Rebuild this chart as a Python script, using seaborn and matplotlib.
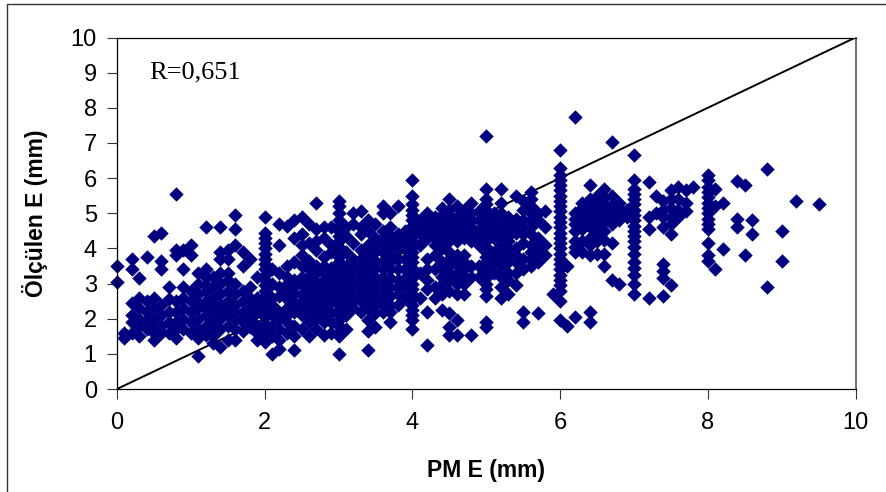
import numpy as np
import pandas as pd
import seaborn as sns
import matplotlib.pyplot as plt
from matplotlib.lines import Line2D

# kolonlar: PM E tam sayi degerlerinde yigilan noktalar
col_2 = [4.9, 4.45, 4.3, 4.15, 4.0, 3.85, 3.7, 3.55, 3.4, 3.25, 3.1, 2.95, 2.8, 2.65, 2.5, 2.35, 2.2, 2.05, 1.85, 1.7, 1.5, 1.35]
col_3 = [5.35, 5.2, 5.0, 4.8, 4.65, 4.5, 4.35, 4.2, 4.05, 3.9, 3.75, 3.6, 3.45, 3.3, 3.15, 3.0, 2.85, 2.7, 2.55, 2.4, 2.25, 2.1, 1.95, 1.8, 1.6, 1.5, 1.0]
col_4 = [5.95, 5.5, 5.25, 5.1, 4.95, 4.8, 4.65, 4.5, 4.35, 4.2, 4.05, 3.9, 3.75, 3.6, 3.45, 3.3, 3.15, 3.0, 2.85, 2.7, 2.55, 2.4, 2.25, 2.1, 1.95, 1.7]
col_5 = [7.2, 5.7, 5.4, 5.25, 5.1, 4.95, 4.8, 4.65, 4.5, 4.35, 4.2, 4.05, 3.9, 3.75, 3.6, 3.45, 3.3, 3.15, 3.0, 2.85, 2.65, 1.9, 1.75]
col_6 = [6.8, 6.3, 6.1, 5.95, 5.8, 5.65, 5.5, 5.35, 5.2, 5.05, 4.9, 4.75, 4.6, 4.45, 4.3, 4.15, 4.0, 3.85, 3.7, 3.55, 3.4, 3.25, 3.1, 2.95, 2.8, 2.5, 1.95]
col_7 = [6.65, 5.95, 5.7, 5.55, 5.4, 5.25, 5.1, 4.95, 4.8, 4.65, 4.5, 4.35, 4.2, 4.05, 3.85, 3.6, 3.45, 3.25, 3.0, 2.7]
col_8 = [6.1, 5.95, 5.75, 5.6, 5.45, 5.3, 5.15, 5.0, 4.85, 4.7, 4.55, 4.15, 3.8, 3.65]

# aradaki noktalar: (PM E, [olculen E degerleri])
band_0 = [
    (0.0, [3.5, 3.05]), (0.1, [1.45, 1.6]), (0.2, [3.7, 3.4, 2.45, 2.1, 1.9, 1.6]),
    (0.3, [3.15, 2.6, 2.3, 2.0, 1.8, 1.5]), (0.4, [3.75, 2.5, 2.2, 1.95, 1.7]),
    (0.5, [4.35, 2.6, 2.3, 2.0, 1.75, 1.6, 1.4]), (0.6, [4.45, 3.65, 3.4, 2.4, 2.1, 1.8, 1.6]),
    (0.7, [2.9, 2.55, 2.2, 1.9, 1.6]), (0.8, [5.55, 3.95, 3.8, 2.5, 2.2, 1.9, 1.7, 1.45]),
    (0.9, [3.95, 3.4, 2.9, 2.6, 2.3, 2.0, 1.7]), (1.0, [4.1, 3.8, 2.8, 2.5, 2.2, 1.9, 1.6]),
]
band_1 = [
    (1.1, [3.3, 3.0, 2.7, 2.45, 2.3, 2.0, 1.7, 1.45, 0.95]), (1.2, [4.6, 3.4, 3.2, 2.95, 2.8, 2.5, 2.3, 2.1, 1.8, 1.55]),
    (1.3, [3.2, 2.9, 2.6, 2.4, 2.2, 1.9, 1.7, 1.5, 1.3]), (1.4, [4.6, 3.9, 3.7, 3.3, 3.0, 2.7, 2.4, 2.2, 2.0, 1.7, 1.2]),
    (1.5, [3.95, 3.7, 3.3, 3.1, 2.8, 2.5, 2.3, 2.1, 1.8, 1.4]), (1.6, [4.95, 4.55, 4.1, 3.0, 2.7, 2.4, 2.2, 2.0, 1.7, 1.4]),
    (1.7, [3.9, 3.5, 2.8, 2.5, 2.2, 2.0, 1.9, 1.65]), (1.8, [3.7, 2.9, 2.6, 2.3, 2.1, 2.0, 1.75]),
    (1.9, [3.2, 2.6, 2.4, 2.2, 1.8, 1.6, 1.4]), (2.1, [3.4, 3.0, 2.6, 2.4, 2.1, 1.8, 1.5, 1.0]),
    (2.2, [4.7, 4.1, 3.3, 2.9, 2.65, 2.2, 2.0, 1.7, 1.4, 1.15]), (2.3, [4.65, 3.5, 3.2, 3.0, 2.8, 2.55, 2.3, 2.1, 1.9, 1.6]),
    (2.4, [4.8, 4.3, 3.6, 3.1, 2.9, 2.7, 2.45, 2.2, 1.8, 1.5, 1.1]), (2.5, [4.9, 4.4, 4.1, 3.8, 3.5, 3.2, 3.0, 2.7, 2.5, 2.3, 2.1, 1.7]),
    (2.6, [4.7, 4.15, 3.65, 3.4, 3.2, 3.0, 2.8, 2.6, 2.4, 2.2, 1.9, 1.5]), (2.7, [5.3, 4.55, 4.2, 3.95, 3.5, 3.3, 3.05, 2.8, 2.6, 2.4, 2.2, 2.0, 1.7]),
    (2.8, [4.6, 4.3, 3.75, 3.5, 3.3, 3.1, 2.9, 2.7, 2.5, 2.3, 2.1, 1.9, 1.55]), (2.9, [4.6, 4.1, 3.9, 3.45, 3.25, 3.05, 2.9, 2.7, 2.5, 2.2, 1.9, 1.6]),
]
band_2 = [
    (3.1, [4.6, 4.35, 3.9, 3.5, 3.3, 3.1, 2.9, 2.7, 2.5, 2.3, 2.1, 1.7]), (3.2, [5.0, 4.7, 4.15, 3.7, 3.5, 3.3, 3.1, 2.9, 2.7, 2.5, 2.3]),
    (3.3, [5.05, 4.6, 4.4, 3.95, 3.7, 3.5, 3.3, 3.1, 2.9, 2.7, 2.5, 2.2]), (3.4, [4.8, 4.5, 4.1, 3.9, 3.7, 3.5, 3.3, 3.1, 2.9, 2.7, 2.5, 2.3, 1.95, 1.65, 1.12]),
    (3.5, [4.7, 4.3, 4.1, 3.9, 3.65, 3.45, 3.2, 3.0, 2.8, 2.6, 2.4, 2.15, 1.75]), (3.6, [5.2, 5.0, 4.5, 4.3, 4.1, 3.9, 3.65, 3.4, 3.2, 3.0, 2.8, 2.6, 2.4, 2.2]),
    (3.7, [5.0, 4.6, 4.35, 4.1, 3.85, 3.6, 3.4, 3.15, 2.9, 2.65, 2.4, 2.2, 1.9]), (3.8, [5.2, 4.4, 4.2, 4.0, 3.7, 3.4, 3.1, 2.9, 2.7, 2.4]),
    (3.9, [4.5, 4.2, 4.0, 3.7, 3.4, 3.15, 2.9, 2.6]), (4.1, [4.8, 4.6, 4.4, 4.1, 3.3, 2.6]),
    (4.2, [5.0, 4.8, 4.6, 4.45, 4.3, 3.7, 3.4, 3.1, 2.85, 2.2, 1.25]), (4.3, [4.9, 4.7, 4.5, 4.3, 4.1, 3.8, 3.4, 2.9, 2.6]),
    (4.4, [5.15, 4.95, 4.8, 4.6, 4.4, 4.2, 4.0, 3.6, 3.4, 3.2, 3.0, 2.7, 2.25]), (4.5, [5.4, 5.1, 4.95, 4.8, 4.6, 4.4, 4.2, 3.9, 3.7, 3.5, 3.3, 3.1, 2.8, 2.15, 1.75, 1.55]),
    (4.6, [5.2, 4.9, 4.7, 4.5, 4.35, 4.2, 3.8, 3.55, 3.3, 3.15, 3.0, 2.7, 1.95, 1.55]), (4.7, [5.1, 4.9, 4.7, 4.5, 4.3, 3.8, 3.6, 3.4, 3.2, 3.0, 2.7]),
    (4.8, [5.3, 5.0, 4.8, 4.6, 4.4, 4.2, 3.5, 3.2, 1.55]), (4.9, [5.05, 4.8, 4.5, 4.3, 4.1, 3.5, 3.2]),
]
band_3 = [
    (5.1, [5.0, 4.8, 4.65, 4.5, 4.3, 3.9, 3.6, 3.3]), (5.2, [5.68, 5.3, 5.0, 4.7, 4.5, 4.3, 4.1, 3.9, 3.7, 3.5, 3.2, 2.9, 2.6]),
    (5.3, [4.9, 4.7, 4.5, 4.35, 4.2, 4.0, 3.8, 3.6, 3.3, 3.1, 2.7]), (5.4, [5.5, 4.85, 4.6, 4.45, 4.0, 3.8, 3.6, 3.3, 2.95]),
    (5.5, [5.35, 5.1, 4.8, 4.6, 4.4, 4.15, 3.7, 3.4, 2.2, 1.9]), (5.6, [5.6, 5.4, 5.2, 5.0, 4.8, 4.6, 4.4, 4.1, 3.9, 3.7, 3.5]),
    (5.7, [5.0, 4.8, 4.3, 4.1, 3.9, 3.6, 2.15]), (5.8, [5.05, 4.6, 4.1, 3.8]), (5.9, [2.7]),
    (6.1, [3.5, 1.8]), (6.2, [7.73, 5.0, 4.85, 4.7, 4.5, 4.2, 4.05, 3.9, 2.05]),
    (6.3, [5.3, 5.15, 5.0, 4.85, 4.7, 4.55, 4.2, 3.9]), (6.4, [5.8, 5.4, 5.2, 5.05, 4.9, 4.75, 4.6, 4.3, 4.1, 3.8, 2.2, 1.9]),
    (6.5, [5.5, 5.35, 5.2, 5.0, 4.85, 4.7, 4.55, 4.4, 4.2, 3.85]), (6.6, [5.7, 5.45, 5.3, 5.1, 4.9, 4.75, 4.5, 4.25, 3.85, 3.5]),
    (6.7, [7.04, 5.5, 5.2, 5.0, 4.85, 4.7, 4.15, 3.1]), (6.8, [5.3, 5.15, 5.0, 4.8, 3.0]),
    (6.9, [5.1, 4.9]),
]
band_4 = [
    (7.2, [5.9, 4.9, 4.55, 2.6]), (7.3, [5.5, 5.0]), (7.4, [5.35, 5.1, 4.9, 4.6, 3.55, 3.35, 3.15, 2.65]),
    (7.5, [5.65, 5.4, 5.15, 4.9, 4.7, 4.4, 2.95]), (7.6, [5.75, 5.4, 5.1, 4.9]),
    (7.7, [5.65, 5.3, 5.05]), (7.8, [5.75]), (8.1, [5.7, 5.2, 3.4]), (8.2, [5.3, 3.97]),
    (8.4, [5.92, 4.85, 4.6]), (8.5, [5.8, 3.8]), (8.6, [4.82, 4.4]),
    (8.8, [6.25, 2.9]), (9.0, [4.5, 3.65]), (9.2, [5.35]), (9.5, [5.27]),
]

kolonlar = [(2.0, col_2), (3.0, col_3), (4.0, col_4), (5.0, col_5), (6.0, col_6), (7.0, col_7), (8.0, col_8)]
satirlar = kolonlar + band_0 + band_1 + band_2 + band_3 + band_4

df = pd.DataFrame([(x, y) for x, ys in satirlar for y in ys], columns=['pm', 'olculen'])

sns.set_theme(style='white')
plt.rcParams['font.family'] = ['Liberation Sans', 'DejaVu Sans']

W, H = 886, 492
fig = plt.figure(figsize=(W / 100, H / 100), dpi=100)
ax = fig.add_axes([117 / W, 1 - 389 / H, (855.5 - 117) / W, (389 - 37.5) / H])

ax.plot([0, 10], [0, 10], color='black', lw=1.4, zorder=1)
sns.scatterplot(data=df, x='pm', y='olculen', marker='D', s=54, color='#000080',
                linewidth=0, ax=ax, zorder=2, clip_on=False)

ax.set_xlim(0, 10)
ax.set_ylim(0, 10)
ax.set_xticks(range(0, 11, 2))
ax.set_yticks(range(0, 11))
ax.tick_params(axis='both', length=7.5, width=0.8, color='#333333', labelsize=17, labelcolor='black',
               bottom=True, left=True, pad=7)
ax.tick_params(axis='x', pad=9)
for s in ax.spines.values():
    s.set_color('black')
    s.set_linewidth(0.9)
ax.spines['right'].set_color('#555555')
ax.spines['right'].set_linewidth(1.2)

ax.set_xlabel('PM E (mm)', fontsize=16.5, fontweight='bold', color='black', labelpad=18)
ax.set_ylabel('Ölçülen E (mm)', fontsize=16.5, fontweight='bold', color='black', labelpad=16)
ax.text(149 / W, 1 - 78 / H, 'R=0,651', transform=fig.transFigure, fontsize=19,
        family='Liberation Serif', color='black', va='baseline')

# dis cerceve (sol ve ust)
fig.add_artist(Line2D([6.5 / W, 6.5 / W], [0, 1 - 3.5 / H], color='#333333', lw=1))
fig.add_artist(Line2D([6.5 / W, 1], [1 - 3.5 / H, 1 - 3.5 / H], color='#333333', lw=1))

fig.savefig('out.png', dpi=100)
